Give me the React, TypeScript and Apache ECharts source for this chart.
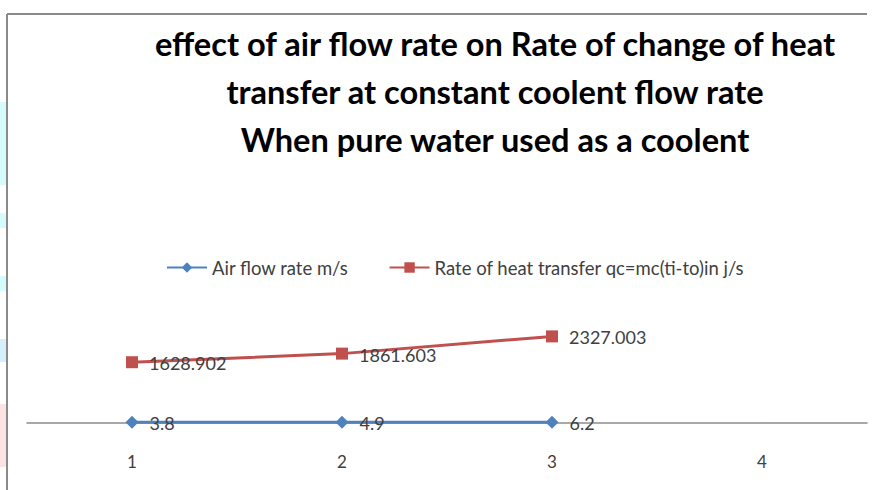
import React, { useEffect, useRef } from "react";
import * as echarts from "echarts";

const categories = ["1", "2", "3", "4"];
const airFlow = [3.8, 4.9, 6.2, null];
const heatTransfer = [1628.902, 1861.603, 2327.003, null];
const seriesNames = ["Air flow rate m/s", "Rate of heat transfer qc=mc(ti-to)in j/s"];
const titleText =
  "effect of air flow rate on Rate of change of heat\ntransfer at constant coolent flow rate\nWhen pure water used as a coolent";

const FONT = "Lato, 'Noto Sans', sans-serif";

export default function App() {
  const ref = useRef<HTMLDivElement>(null);
  useEffect(() => {
    if (!ref.current) return;
    const chart = echarts.init(ref.current, undefined, { renderer: "svg" });
    chart.setOption({
      animation: false,
      backgroundColor: "#ffffff",
      textStyle: { fontFamily: FONT },
      title: {
        text: titleText,
        left: 490,
        top: 14,
        textAlign: "center",
        textStyle: {
          fontFamily: FONT,
          fontWeight: "bold",
          fontSize: 32.6,
          lineHeight: 48,
          color: "#000000",
        },
      },
      legend: {
        left: 166,
        top: 258,
        padding: 0,
        itemWidth: 40,
        itemHeight: 13,
        itemGap: 40,
        textStyle: { fontFamily: FONT, fontSize: 18.5, color: "#404040" },
        data: seriesNames,
      },
      grid: { left: 27, right: 8, top: 52.5, bottom: 67.5, containLabel: false },
      xAxis: {
        type: "category",
        data: categories,
        boundaryGap: true,
        axisLine: { show: true, lineStyle: { color: "#8c8c8c", width: 1.5 } },
        axisTick: { show: false },
        axisLabel: { fontFamily: FONT, fontSize: 17, color: "#404040", margin: 30 },
        splitLine: { show: false },
      },
      yAxis: {
        type: "value",
        min: 0,
        max: 10000,
        show: false,
        splitLine: { show: false },
      },
      series: [
        {
          name: seriesNames[0],
          type: "line",
          data: airFlow,
          symbol: "diamond",
          symbolSize: 13,
          color: "#4F81BD",
          lineStyle: { width: 3, color: "#4F81BD" },
          itemStyle: { color: "#4F81BD" },
          label: {
            show: true,
            position: "right",
            distance: 11,
            fontFamily: FONT,
            fontSize: 18,
            color: "#404040",
            offset: [0, 1],
          },
          z: 3,
        },
        {
          name: seriesNames[1],
          type: "line",
          data: heatTransfer,
          symbol: "rect",
          symbolSize: 12,
          color: "#C0504D",
          lineStyle: { width: 3, color: "#C0504D" },
          itemStyle: { color: "#C0504D" },
          label: {
            show: true,
            position: "right",
            distance: 11,
            fontFamily: FONT,
            fontSize: 18,
            color: "#404040",
            offset: [0, 1],
          },
          z: 3,
        },
      ],
      graphic: [
        { type: "rect", shape: { x: 0, y: 102, width: 6, height: 83 }, style: { fill: "#d6fbfb" }, silent: true },
        { type: "rect", shape: { x: 0, y: 213, width: 6, height: 15 }, style: { fill: "#d6fbfb" }, silent: true },
        { type: "rect", shape: { x: 0, y: 276, width: 6, height: 15 }, style: { fill: "#d6fbfb" }, silent: true },
        { type: "rect", shape: { x: 0, y: 339, width: 6, height: 23 }, style: { fill: "#d6f0fb" }, silent: true },
        { type: "rect", shape: { x: 0, y: 404, width: 6, height: 63 }, style: { fill: "#fde3e3" }, silent: true },
        { type: "line", shape: { x1: 7, y1: 14, x2: 867, y2: 14 }, style: { stroke: "#8a8a8a", lineWidth: 2 }, silent: true },
        { type: "line", shape: { x1: 7, y1: 14, x2: 7, y2: 490 }, style: { stroke: "#8a8a8a", lineWidth: 2 }, silent: true },
      ],
    });
    return () => chart.dispose();
  }, []);
  return (
    <div
      ref={ref}
      style={{ position: "fixed", left: 0, top: 0, width: 875, height: 490 }}
    />
  );
}
